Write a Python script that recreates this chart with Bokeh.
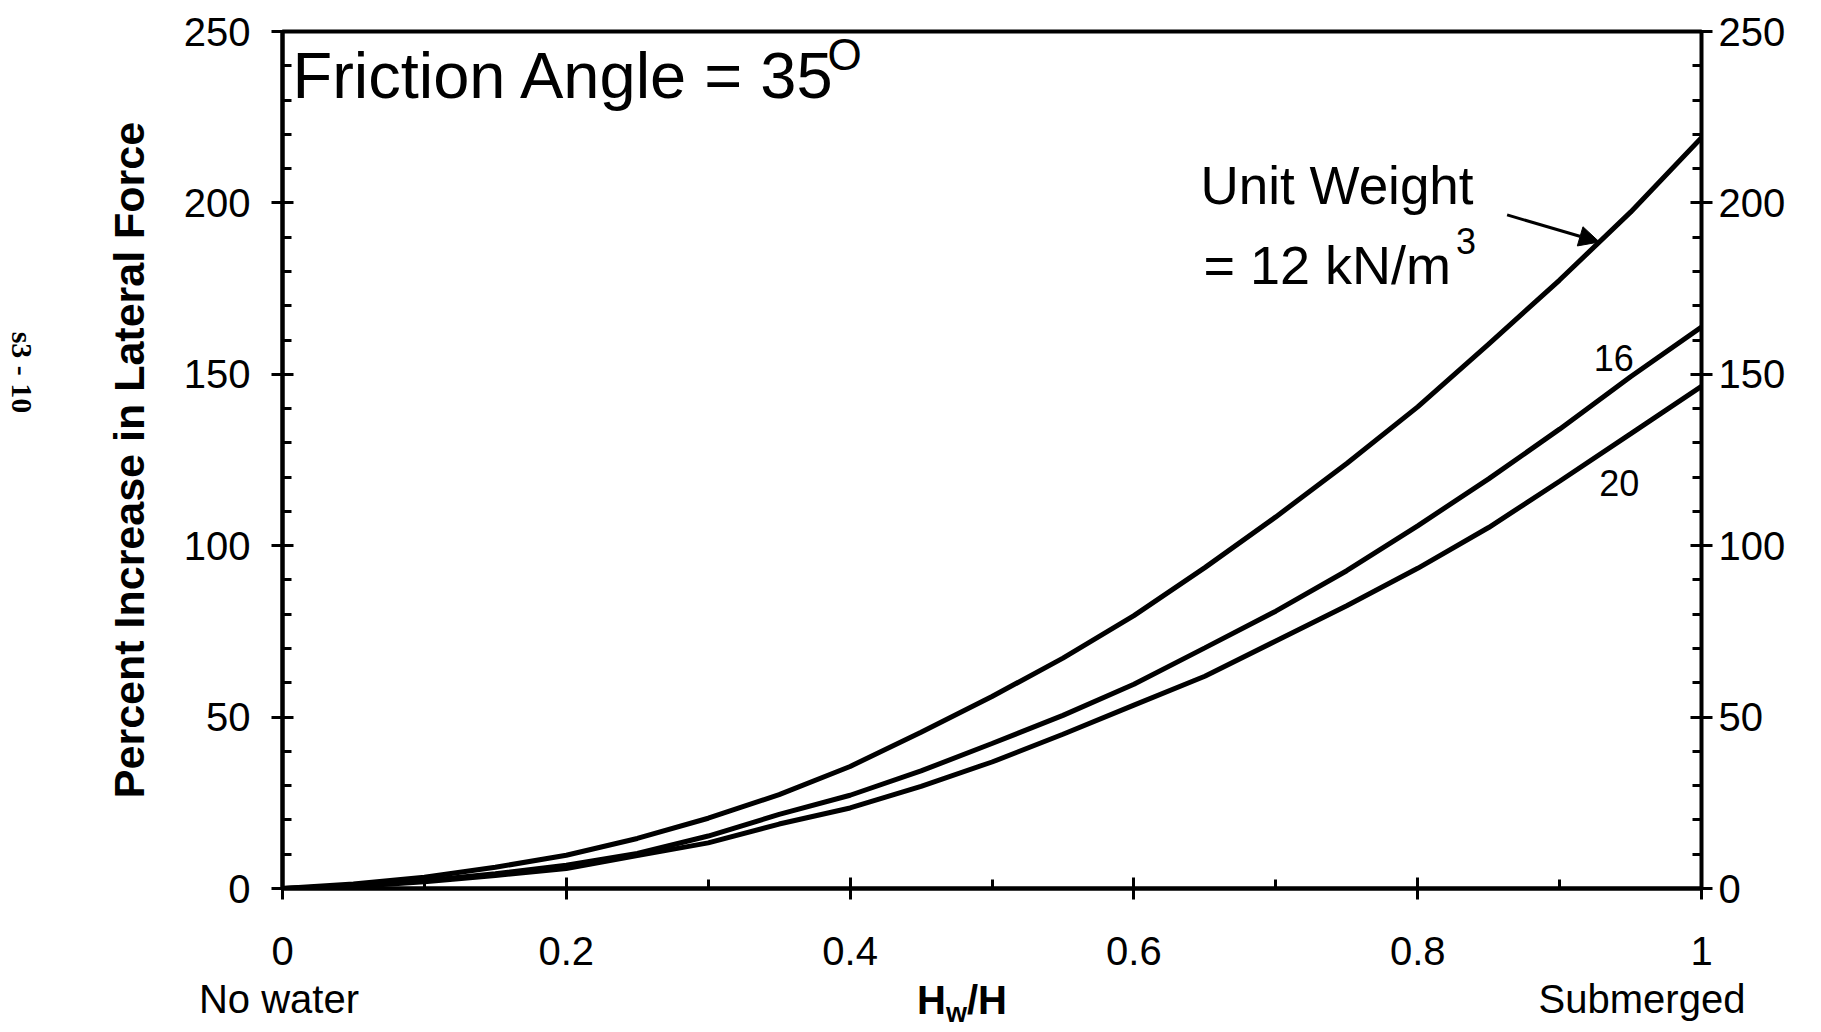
from bokeh.plotting import figure
from bokeh.layouts import row, column
from bokeh.models import Range1d, LinearAxis, FixedTicker, Label, Arrow, NormalHead, Div
from bokeh.embed import file_html
from bokeh.resources import INLINE

# ---- data ----
hw_ratio = [0.0, 0.05, 0.1, 0.15, 0.2, 0.25, 0.3, 0.35, 0.4, 0.45, 0.5,
            0.55, 0.6, 0.65, 0.7, 0.75, 0.8, 0.85, 0.9, 0.95, 1.0]
uw12 = [0.0, 1.3, 3.3, 6.2, 9.7, 14.6, 20.5, 27.4, 35.6, 45.6, 56.0,
        67.2, 79.6, 93.6, 108.4, 124.0, 140.5, 158.8, 177.5, 197.3, 219.0]
uw16 = [0.0, 0.8, 2.3, 4.3, 6.8, 10.2, 15.3, 21.6, 27.2, 34.3, 42.3,
        50.5, 59.6, 70.2, 80.9, 92.7, 105.8, 119.5, 134.0, 149.3, 163.8]
uw20 = [0.0, 0.6, 2.0, 3.8, 5.8, 9.6, 13.3, 18.8, 23.5, 29.8, 36.9,
        45.0, 53.5, 61.9, 72.2, 82.5, 93.4, 105.3, 118.8, 132.6, 146.5]

x_major = [0, 0.2, 0.4, 0.6, 0.8, 1]
x_minor = [0.1, 0.3, 0.5, 0.7, 0.9]
y_major = [0, 50, 100, 150, 200, 250]
y_minor = [v for v in range(0, 251, 10) if v % 50 != 0]

FONT = "Liberation Sans"
SIDE_W = 50
MAIN_W = 1805 - SIDE_W
MAIN_H = 984
BOTTOM_H = 1016 - MAIN_H

p = figure(width=MAIN_W, height=MAIN_H, output_backend="svg", toolbar_location=None,
           x_range=Range1d(0, 1), y_range=Range1d(0, 250),
           min_border_left=282 - SIDE_W, min_border_right=104,
           min_border_top=31, min_border_bottom=MAIN_H - 888)
p.grid.visible = False
p.outline_line_color = "black"
p.outline_line_width = 4
p.background_fill_color = "white"
p.border_fill_color = "white"

for xs_, ys_ in [(hw_ratio, uw12), (hw_ratio, uw16), (hw_ratio, uw20)]:
    p.line(xs_, ys_, line_color="black", line_width=5)

def style_axis(ax, major, minor):
    ax.ticker = FixedTicker(ticks=major, minor_ticks=minor)
    ax.axis_line_color = "black"
    ax.axis_line_width = 4
    ax.major_tick_line_color = "black"
    ax.major_tick_line_width = 3
    ax.minor_tick_line_color = "black"
    ax.minor_tick_line_width = 3
    ax.major_tick_out = 11
    ax.major_tick_in = 11
    ax.minor_tick_out = 0
    ax.minor_tick_in = 9
    ax.major_label_text_font = FONT
    ax.major_label_text_font_size = "40px"
    ax.major_label_text_color = "black"

xa = p.xaxis[0]
style_axis(xa, x_major, x_minor)
xa.major_label_overrides = {0: "0", 1: "1"}
xa.major_label_standoff = 37

ya = p.yaxis[0]
style_axis(ya, y_major, y_minor)
ya.major_label_standoff = 21
ya.axis_label = "Percent Increase in Lateral Force"
ya.axis_label_text_font = FONT
ya.axis_label_text_font_style = "bold"
ya.axis_label_text_font_size = "43px"
ya.axis_label_text_color = "black"
ya.axis_label_standoff = 28

ra = LinearAxis()
style_axis(ra, y_major, y_minor)
ra.axis_line_width = 3
ra.major_label_standoff = 6
p.add_layout(ra, "right")

def add_label(fig, x, y, text, size, style="normal", font=FONT, xo=0, yo=0,
              align="left", baseline="alphabetic", angle=0.0, units="data"):
    fig.add_layout(Label(x=x, y=y, text=text, x_offset=xo, y_offset=yo,
                         x_units=units, y_units=units,
                         text_font=font, text_font_size=size, text_font_style=style,
                         text_color="black", text_align=align, text_baseline=baseline,
                         angle=angle))

# title inside plot
add_label(p, 0.007, 237.3, "Friction Angle = 35", "65px")
add_label(p, 0.384, 243.3, "O", "44px")

# annotation of curves
add_label(p, 0.647, 205.1, "Unit Weight", "53px")
add_label(p, 0.649, 182.0, "= 12 kN/m", "54px")
add_label(p, 0.827, 188.9, "3", "36px")
add_label(p, 0.924, 154.9, "16", "36px")
add_label(p, 0.928, 118.2, "20", "36px")

p.add_layout(Arrow(end=NormalHead(size=20, fill_color="black", line_color="black"),
                   x_start=0.863, y_start=196.5, x_end=0.928, y_end=188.6,
                   line_color="black", line_width=3))

# bottom strip: texts under the x axis (HTML, so the subscript is real text)
SPAN = ("position:absolute;white-space:nowrap;line-height:1;margin:0;padding:0;"
        "font-family:'Liberation Sans',Arial,sans-serif;font-size:40px;color:black;")
bottom_html = (
    f'<div style="position:relative;width:{MAIN_W}px;height:{BOTTOM_H}px;margin:0;padding:0;">'
    f'<span style="{SPAN}left:229px;top:-5px;transform:translateX(-50%);">No water</span>'
    f'<span style="{SPAN}left:867px;top:-4px;font-weight:bold;">H'
    f'<span style="font-size:27px;position:relative;top:8px;">w</span>/H</span>'
    f'<span style="{SPAN}left:1592px;top:-5px;transform:translateX(-50%);">Submerged</span>'
    '</div>'
)
bot = Div(text=bottom_html, width=MAIN_W, height=BOTTOM_H,
          styles={"margin": "0", "padding": "0", "overflow": "visible"})

# side strip: page note
side = figure(width=SIDE_W, height=1016, output_backend="svg", toolbar_location=None,
              x_axis_type=None, y_axis_type=None,
              x_range=Range1d(0, 1), y_range=Range1d(0, 1),
              min_border=0, min_border_left=0, min_border_right=0,
              min_border_top=0, min_border_bottom=0)
side.grid.visible = False
side.outline_line_color = None
side.background_fill_color = "white"
side.border_fill_color = "white"
add_label(side, 22, 1016 - 372, "s3 - 10", "30px", style="bold", font="Liberation Serif",
          align="center", baseline="middle", angle=-1.5708, units="screen")

layout = row(side, column(p, bot))
open("out.html", "w").write(file_html(layout, INLINE))
